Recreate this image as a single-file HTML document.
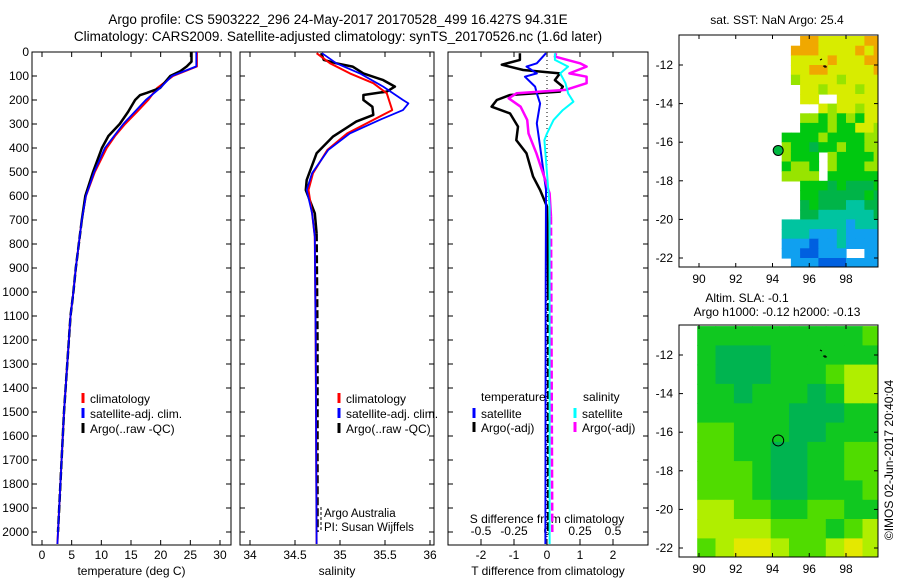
<!DOCTYPE html>
<html><head><meta charset="utf-8"><style>
html,body{margin:0;padding:0;background:#fff;}
svg{display:block;font-family:"Liberation Sans",sans-serif;}
</style></head><body>
<svg id="c" width="900" height="580" viewBox="0 0 900 580" xmlns="http://www.w3.org/2000/svg"></svg>
<script>
// ---------- data ----------
const tempClimDepth=[0,60,100,150,200,250,300,350,400,500,600,700,800,900,1000,1100,1500,2000,2050];
const tempClim=[26.1,26.1,22.1,19.4,17.9,16.0,14.0,12.3,10.9,8.9,7.4,6.7,6.2,5.7,5.3,4.8,3.7,2.7,2.6];
const tempSatDepth=[0,60,100,150,200,300,400,500,600,700,800,900,1000,1100,1500,2000,2050];
const tempSat=[26.0,26.0,21.9,19.9,17.5,13.7,10.6,8.8,7.4,6.7,6.2,5.7,5.3,4.8,3.7,2.7,2.6];
const tempArgoDepth=[0,40,60,80,100,150,170,180,200,250,300,350,400,500,600,700,800,900,1000,1100,1500,2000];
const tempArgo=[25.2,25.2,24.4,23.3,21.6,19.9,17.7,16.5,15.7,14.5,13.1,11.2,10.1,8.6,7.3,6.7,6.2,5.7,5.3,4.8,3.7,2.7];

const salClimDepth=[5,47,89,130,172,242,283,339,408,505,575,672,769,1200,2050];
const salClim=[34.74,34.89,35.11,35.37,35.52,35.58,35.37,35.08,34.86,34.70,34.65,34.69,34.72,34.73,34.74];
const salSatDepth=[5,47,89,144,200,214,242,283,339,408,505,575,672,769,1200,2050];
const salSat=[34.80,34.96,35.22,35.48,35.70,35.76,35.70,35.44,35.11,34.87,34.69,34.63,34.69,34.72,34.73,34.74];
const salArgoDepth=[5,33,47,61,89,117,144,165,179,200,228,262,290,353,422,533,575,672,755,1200,2000];
const salArgo=[34.79,34.82,34.96,35.14,35.26,35.48,35.61,35.52,35.26,35.26,35.36,35.37,35.18,34.92,34.74,34.63,34.62,34.72,34.74,34.75,34.75];

const dTSatDepth=[5,47,61,89,103,144,172,214,297,394,575,1000,2050];
const dTSat=[-0.03,-0.31,-0.62,-0.31,-0.67,-0.36,-0.31,-0.21,-0.31,-0.21,-0.03,-0.04,-0.05];
const dTArgoDepth=[5,33,53,75,89,117,144,165,179,200,228,256,311,367,422,519,575,644,1000,2000];
const dTArgo=[-0.82,-0.82,-1.37,-0.72,0.39,0.24,0.48,0.39,-1.12,-1.52,-1.68,-1.12,-0.88,-0.93,-0.62,-0.42,-0.21,0.0,0.04,0.04];
const dSSatDepth=[5,33,61,89,130,172,207,242,283,339,367,505,644,2050];
const dSSat=[0.06,0.06,0.16,0.10,0.14,0.16,0.20,0.12,0.05,0.0,-0.02,0.0,0.02,0.02];
const dSArgoDepth=[5,19,47,61,89,103,130,158,172,193,228,283,339,422,505,589,686,2000];
const dSArgo=[0.07,0.06,0.25,0.30,0.17,0.30,0.30,0.14,-0.23,-0.29,-0.20,-0.15,-0.14,-0.08,-0.03,0.02,0.03,0.04];

const depthTicks=[0,100,200,300,400,500,600,700,800,900,1000,1100,1200,1300,1400,1500,1600,1700,1800,1900,2000];
const tempTicks=[0,5,10,15,20,25,30];
const salTicks=[34,34.5,35,35.5,36];
const dTTicks=[-2,-1,0,1,2];
const dSTicks=[-0.5,-0.25,0,0.25,0.5];
const dSTickLabels=["-0.5","-0.25","0","0.25","0.5"];
const lonTicks=[90,92,94,96,98];
const latTicks=[-12,-14,-16,-18,-20,-22];

// SST grid: rows from lat -10.5 (0.5 deg), cols from lon 89 (0.5 deg)
const sstRows=[
".............OOYYYYYOO",
"............OOOYYYYOYO",
"............YYYYOYYYOO",
"............YYOOYYYYYO",
"............LYYYYLYYYY",
".............YYLYYYLYY",
".............YY..YYYYY",
"...............YLYYLYY",
".............LLGLGLGYY",
".............GGGLGGYYL",
"...........GGGGLGGGGLL",
"...........LGGDGGLGGLL",
"...........LGGG.LGGGGL",
"...........GLLG.LGGGLL",
"...........LLLL.GGGGGG",
".............GGGDGDDDG",
".............GGDDDDDGD",
".............DGDDDTTDD",
".............DDTTTTTTD",
"...........TTTTTTTBTTT",
"...........TTTBBBTBBBB",
"...........BBBNBBTBBBB",
"...........BBNNBBB..BB",
"............BBBNNNBBBB"];
const sstColors={O:"#f0a800",Y:"#d8ec00",L:"#98e400",G:"#00c810",D:"#00b448",T:"#00c4a0",B:"#10a0f0",N:"#0060e0"};
// SLA grid: rows from lat -10.5 (1 deg), cols from lon 90 (1 deg)
const slaRows=[
"GGGGGGGGGL",
"GDDDGGGGGG",
"GDDDGGGLYY",
"GGDGGGDGYY",
"GGGGGDDDGG",
"LLGGGDDGGG",
"LLGGDDGGLL",
"LLLGDDGGLL",
"LLLGDDGGGL",
"YYLLGGLLGG",
"YYYYLLLGLY",
"LYZZYLLYZY"];
const slaColors={D:"#00b450",G:"#10c820",L:"#50dc00",Y:"#b0ee00",Z:"#e4e800"};

// ---------- helpers ----------
const NS="http://www.w3.org/2000/svg";
const svg=document.getElementById('c');
function el(tag,attrs,parent){const e=document.createElementNS(NS,tag);for(const k in attrs)e.setAttribute(k,attrs[k]);(parent||svg).appendChild(e);return e;}
function txt(x,y,s,anchor,size,parent){const t=el('text',{x:x,y:y,'text-anchor':anchor||'middle','font-size':size||12,fill:'#000'},parent);t.textContent=s;return t;}

const yTop=52, pxPerM=0.24, yBot=545;
const yD=d=>yTop+d*pxPerM;

function panel(name,x0,x1,xf,ticks,labels,xlabel){
  const g=el('g',{});
  
  
  const r=el('rect',{x:x0,y:yTop,width:x1-x0,height:yBot-yTop,fill:'none',stroke:'#000','stroke-width':1},g);
  
  
  depthTicks.forEach(d=>{
    el('line',{x1:x0,x2:x0+5,y1:yD(d),y2:yD(d),stroke:'#000'},g);
    el('line',{x1:x1-5,x2:x1,y1:yD(d),y2:yD(d),stroke:'#000'},g);
  });
  ticks.forEach((v,i)=>{
    const x=xf(v);
    el('line',{x1:x,x2:x,y1:yBot,y2:yBot-5,stroke:'#000'},g);
    el('line',{x1:x,x2:x,y1:yTop,y2:yTop+5,stroke:'#000'},g);
    if(labels){const t=txt(x,559,labels[i],'middle',12,g);
      
      }
  });
  const xl=txt((x0+x1)/2,575,xlabel,'middle',12,g);
  
  
  return g;
}
function poly(g,name,xs,ds,xf,color,w,dash){
  const pts=xs.map((v,i)=>xf(v).toFixed(1)+','+yD(ds[i]).toFixed(1)).join(' ');
  const p=el('polyline',{points:pts,fill:'none',stroke:color,'stroke-width':w,'stroke-linejoin':'round'},g);
  if(dash)p.setAttribute('stroke-dasharray',dash);
  
  
  return p;
}
// solid above split depth, dashed below
function line(g,name,xs,ds,xf,color,w,dash,split){
  if(!dash){return poly(g,name,xs,ds,xf,color,w);}
  let k=ds.findIndex(d=>d>=split); if(k<0)k=ds.length-1;
  poly(g,name+'-upper',xs.slice(0,k+1),ds.slice(0,k+1),xf,color,w);
  return poly(g,name+'-lower',xs.slice(k),ds.slice(k),xf,color,w,dash);
}
function legend(g,x,y,color,label,name){
  el('line',{x1:x,x2:x,y1:y-10,y2:y,stroke:color,'stroke-width':3},g);
  const t=txt(x+7,y,label,'start',12,g);
  
  
}

// ---------- titles ----------
const t1=txt(338,24,"Argo profile: CS 5903222_296 24-May-2017 20170528_499 16.427S 94.31E",'middle',13.5);


const t2=txt(338,41,"Climatology: CARS2009. Satellite-adjusted climatology: synTS_20170526.nc (1.6d later)",'middle',13.5);



depthTicks.forEach(d=>{const t=txt(29,yD(d)+4,String(d),'end',12);
  
  });

// ---------- panel 1 temperature ----------
const xT=v=>42+v*5.933;
const p1=panel('temperature-panel',32,231,xT,tempTicks,tempTicks.map(String),'temperature (deg C)');
line(p1,'temp-climatology-line',tempClim,tempClimDepth,xT,'#ff0000',2);
line(p1,'temp-argo-line',tempArgo,tempArgoDepth,xT,'#000',2.5,'8,3',650);
line(p1,'temp-satellite-line',tempSat,tempSatDepth,xT,'#0000ff',1.8);
legend(p1,83,403,'#ff0000','climatology','legend-climatology');
legend(p1,83,418,'#0000ff','satellite-adj. clim.','legend-satellite');
legend(p1,83,433,'#000','Argo(..raw -QC)','legend-argo');

// ---------- panel 2 salinity ----------
const xS=v=>295+(v-34.5)*90;
const p2=panel('salinity-panel',240,434,xS,salTicks,salTicks.map(String),'salinity');
line(p2,'sal-argo-line',salArgo,salArgoDepth,xS,'#000',2.5,'8,3',700);
line(p2,'sal-climatology-line',salClim,salClimDepth,xS,'#ff0000',2);
line(p2,'sal-satellite-line',salSat,salSatDepth,xS,'#0000ff',1.8);
legend(p2,339,403,'#ff0000','climatology','legend-climatology');
legend(p2,339,418,'#0000ff','satellite-adj. clim.','legend-satellite');
legend(p2,339,433,'#000','Argo(..raw -QC)','legend-argo');
el('line',{x1:321,x2:321,y1:507,y2:531,stroke:'#000','stroke-width':1,'stroke-dasharray':'3,2'},p2);
const aa=txt(324,517,'Argo Australia','start',11.5,p2);


const pi=txt(324,531,'PI: Susan Wijffels','start',11.5,p2);



// ---------- panel 3 differences ----------
const xdT=v=>547+v*33;
const xdS=v=>547+v*132;
const p3=panel('difference-panel',448,648,xdT,dTTicks,dTTicks.map(String),'T difference from climatology');
el('line',{x1:547,x2:547,y1:yTop,y2:yBot,stroke:'#000','stroke-dasharray':'1,3'},p3);
dSTicks.forEach((v,i)=>{
  el('line',{x1:xdS(v),x2:xdS(v),y1:yBot,y2:yBot-6,stroke:'#000'},p3);
  const t=txt(xdS(v),535,dSTickLabels[i],'middle',12,p3);
  
  
});
const sdl=txt(547,523,'S difference from climatology','middle',12,p3);


line(p3,'dT-argo-line',dTArgo,dTArgoDepth,xdT,'#000',2.5,'8,3',650);
line(p3,'dT-satellite-line',dTSat,dTSatDepth,xdT,'#0000ff',2);
line(p3,'dS-argo-line',dSArgo,dSArgoDepth,xdS,'#ff00ff',2.5,'8,3',650);
line(p3,'dS-satellite-line',dSSat,dSSatDepth,xdS,'#00ffff',2);
const lt=txt(481,401,'temperature','start',12,p3);


legend(p3,474,418,'#0000ff','satellite','legend-t-satellite');
legend(p3,474,432,'#000','Argo(-adj)','legend-t-argo');
const ls=txt(583,401,'salinity','start',12,p3);


legend(p3,575,418,'#00ffff','satellite','legend-s-satellite');
legend(p3,575,432,'#ff00ff','Argo(-adj)','legend-s-argo');

// ---------- maps ----------
const lonX=v=>699+(v-90)*18.375;
function drawMap(name,top,bottom,lat12y,rows,colors,step,lon0){
  const g=el('g',{});
  
  
  const latY=v=>lat12y+(-12-v)*19.3;
  const cp='clip-'+name;
  const cl=el('clipPath',{id:cp},g);
  el('rect',{x:679,y:top,width:199,height:bottom-top},cl);
  const cells=el('g',{'clip-path':'url(#'+cp+')'},g);
  rows.forEach((row,r)=>{
    for(let c=0;c<row.length;c++){
      const k=row[c]; if(k==='.')continue;
      const lon=lon0+c*step, lat=-10.5-r*step;
      const x=lonX(lon), y=latY(lat);
      const rc=el('rect',{x:x.toFixed(1),y:y.toFixed(1),width:(step*18.375+0.6).toFixed(1),height:(step*19.3+0.6).toFixed(1),fill:colors[k]},cells);
      
      
    }
  });
  el('rect',{x:679,y:top,width:199,height:bottom-top,fill:'none',stroke:'#000'},g);
  lonTicks.forEach(v=>{
    el('line',{x1:lonX(v),x2:lonX(v),y1:bottom,y2:bottom-4,stroke:'#000'},g);
    el('line',{x1:lonX(v),x2:lonX(v),y1:top,y2:top+4,stroke:'#000'},g);
    const t=txt(lonX(v),bottom+16,String(v),'middle',12,g);
    
    
  });
  latTicks.forEach(v=>{
    el('line',{x1:679,x2:683,y1:latY(v),y2:latY(v),stroke:'#000'},g);
    el('line',{x1:874,x2:878,y1:latY(v),y2:latY(v),stroke:'#000'},g);
    const t=txt(673,latY(v)+4,String(v),'end',12,g);
    
    
  });
  return {g:g,latY:latY};
}
const m1=drawMap('sst-map',35,267,65,sstRows,sstColors,0.5,89);
const st=txt(777,24,'sat. SST: NaN Argo: 25.4','middle',12);


const dot=el('circle',{cx:lonX(94.31),cy:m1.latY(-16.427),r:5,fill:'#00b840',stroke:'#000','stroke-width':1},m1.g);


el('path',{d:'M820 60 l2 -1 M823 66 l4 1 m-2 -2 v3',stroke:'#000','stroke-width':1,fill:'none'},m1.g);

const m2=drawMap('sla-map',325,557,355,slaRows,slaColors,1,89.9);
const s1=txt(747,302,'Altim. SLA: -0.1','middle',12);


const s2=txt(777,316,'Argo h1000: -0.12 h2000: -0.13','middle',12);


const ring=el('circle',{cx:lonX(94.31),cy:m2.latY(-16.427),r:5.5,fill:'none',stroke:'#000','stroke-width':1},m2.g);


el('path',{d:'M820 350 l2 1 M823 356 l4 1 m-2 -2 v3',stroke:'#000','stroke-width':1,fill:'none'},m2.g);

const imos=txt(0,0,'©IMOS 02-Jun-2017 20:40:04','middle',12);
imos.setAttribute('transform','translate(893,460) rotate(-90)');


</script>
</body></html>
